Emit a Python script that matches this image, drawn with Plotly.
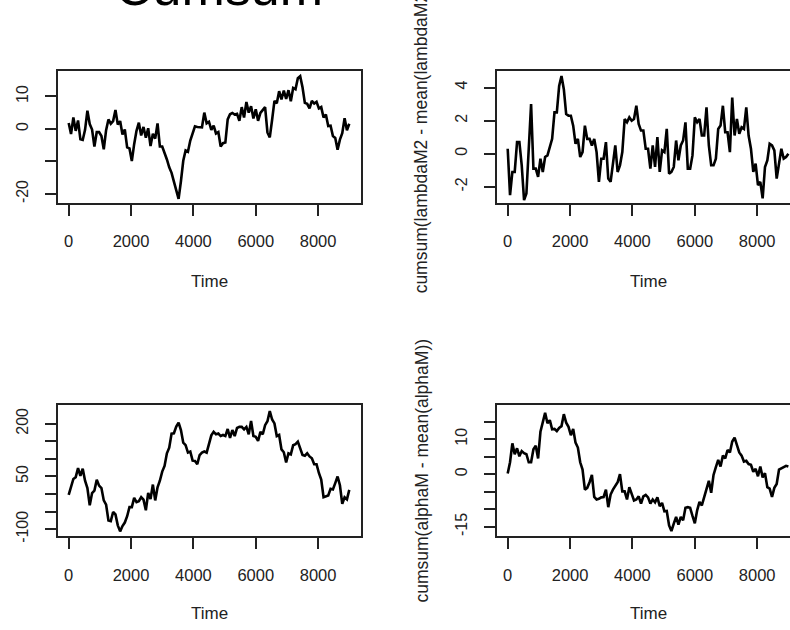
import plotly.graph_objects as go

# Time index (ts index of the series, sampled every 75 steps)
TIME = list(range(0, 9001, 75))

X_TICKS = [0, 2000, 4000, 6000, 8000]
X_TICK_TEXT = ["0", "2000", "4000", "6000", "8000"]

# cumsum series (including the visible jitter band)
CUM_TOP_LEFT = [
    1.8, -1.6, 3.5, -0.6, 2.6, -3.2, -3.4, -0.3, 5.6, 1.5,
    -0.2, -5.4, -1.0, -1.0, -2.2, -6.3, -0.4, 2.9, 1.6, 2.4,
    5.8, 1.3, 2.4, -1.7, -0.2, -5.7, -6.0, -9.9, -4.7, -0.6,
    1.9, -2.0, 0.6, -2.7, 0.2, -5.3, -1.5, -3.0, 1.7, -5.4,
    -5.4, -7.2, -9.4, -11.8, -13.5, -16.2, -19.1, -21.5, -16.1, -9.8,
    -6.6, -7.0, -3.6, -1.4, 0.8, 0.6, 0.5, 0.5, 5.0, 1.7,
    2.2, -0.3, 1.0, -1.4, -1.0, -5.4, -4.4, -4.2, 2.9, 4.5,
    4.9, 4.4, 4.6, 2.5, 6.7, 3.5, 8.3, 5.0, 7.0, 3.2,
    6.0, 2.5, 4.9, 5.8, 6.7, -1.1, -2.6, 2.8, 8.6, 7.9,
    11.6, 9.1, 11.8, 9.2, 11.9, 8.5, 12.6, 12.2, 15.6, 16.2,
    12.8, 8.0, 7.7, 6.3, 8.6, 7.8, 8.3, 6.3, 6.7, 3.5,
    4.4, 0.9, 1.0, -2.2, -2.8, -6.4, -3.3, -1.3, 3.3, -0.4,
    1.6,
]

CUM_LAMBDAM2 = [
    0.3, -2.5, -1.1, -1.1, 0.7, 0.7, -0.7, -2.8, -2.4, 0.5,
    3.0, -0.9, -0.9, -1.4, -0.3, -1.1, -0.2, -0.1, 0.4, 0.9,
    2.5, 2.5, 4.1, 4.7, 3.9, 2.4, 2.3, 2.3, 1.7, 0.6,
    0.9, -0.2, 0.1, 1.7, 0.9, 0.9, 0.5, 0.9, 0.1, -1.7,
    -0.3, -0.3, 0.7, -1.5, -1.7, -0.7, 0.5, -1.1, -0.7, 0.1,
    2.1, 1.9, 2.2, 2.0, 2.1, 2.9, 1.8, 1.4, 1.4, 0.3,
    0.3, -0.9, 0.5, -0.8, 1.0, -1.1, 0.2, 0.1, 1.5, -1.2,
    -1.1, -0.8, 0.8, -0.4, 0.5, 0.8, 1.9, -0.9, -0.9, -0.1,
    2.2, 1.9, 2.1, 1.1, 1.1, 2.8, 0.5, -0.7, -0.7, -0.3,
    1.5, 1.7, 2.9, 1.3, 1.3, 0.1, 3.4, 1.1, 2.1, 1.2,
    1.6, 1.5, 2.8, 1.1, 0.3, -1.1, -0.6, -1.9, -1.7, -2.7,
    -0.8, -0.4, 0.6, 0.5, 0.2, -1.5, -0.5, 0.3, -0.3, -0.2,
    0.0,
]

CUM_BOTTOM_LEFT = [
    -2, 24, 43, 48, 74, 52, 72, 38, 17, -32,
    3, 10, 41, 24, 17, -18, -30, -75, -77, -51,
    -58, -89, -106, -91, -81, -63, -37, -37, -11, -23,
    -20, -9, -16, -46, 3, -14, 27, -18, 19, 38,
    64, 80, 116, 132, 172, 173, 192, 203, 182, 146,
    139, 118, 121, 95, 94, 85, 111, 118, 121, 118,
    139, 167, 177, 170, 172, 165, 168, 165, 185, 160,
    182, 165, 188, 191, 191, 184, 191, 170, 208, 165,
    163, 151, 177, 170, 196, 207, 236, 212, 201, 165,
    168, 127, 119, 90, 116, 113, 139, 142, 149, 127,
    111, 109, 116, 107, 102, 85, 85, 60, 41, -9,
    -6, -4, 15, 13, 31, 50, 25, -28, -9, -15,
    12,
]

CUM_ALPHAM = [
    0.2, 3.4, 8.8, 5.7, 7.4, 5.1, 6.6, 6.0, 5.7, 3.4,
    3.4, 7.1, 8.1, 4.5, 12.1, 14.7, 17.5, 14.5, 15.4, 12.8,
    12.9, 12.3, 13.2, 13.7, 17.1, 14.7, 13.5, 11.1, 12.9, 9.0,
    7.6, 3.4, 1.3, -4.4, -3.9, -2.3, -0.2, -6.5, -7.2, -7.0,
    -6.6, -6.5, -4.4, -9.4, -5.8, -4.4, -3.5, -2.3, 0.0, -4.9,
    -4.9, -7.2, -3.7, -5.6, -7.5, -7.2, -6.3, -8.4, -6.3, -5.9,
    -6.6, -8.4, -7.2, -8.0, -6.6, -9.1, -8.2, -10.6, -10.5, -14.6,
    -16.2, -14.1, -12.2, -14.4, -12.2, -13.1, -9.6, -9.4, -9.6, -11.9,
    -14.0, -10.3, -7.9, -8.9, -6.8, -4.2, -1.9, -5.3, -0.2, 2.0,
    4.1, 2.2, 5.3, 4.5, 6.9, 6.2, 9.3, 10.4, 8.3, 6.2,
    5.3, 3.6, 3.8, 2.9, 2.7, 0.7, 1.5, -0.6, 2.2, -0.9,
    0.3, -3.7, -4.1, -6.5, -3.9, -2.8, 1.3, 1.7, 2.2, 2.4,
    2.2,
]

Y1_TICKS = [-20, -10, 0, 10]
Y1_TEXT = ["-20", "", "0", "10"]
Y2_TICKS = [-2, 0, 2, 4]
Y2_TEXT = ["-2", "0", "2", "4"]
Y3_TICKS = [-100, -50, 0, 50, 100, 150, 200]
Y3_TEXT = ["-100", "", "", "50", "", "", "200"]
Y4_TICKS = [-15, -10, -5, 0, 5, 10, 15]
Y4_TEXT = ["-15", "", "", "0", "", "10", ""]

TITLE = "Cumsum"
XLAB = "Time"
YLAB_TR = "cumsum(lambdaM2 - mean(lambdaM2))"
YLAB_BR = "cumsum(alphaM - mean(alphaM))"

FONT = "Liberation Sans, Arial, sans-serif"
INK = "#222222"
W, H = 790, 630

fig = go.Figure()
series = [CUM_TOP_LEFT, CUM_LAMBDAM2, CUM_BOTTOM_LEFT, CUM_ALPHAM]
for i, s in enumerate(series):
    suf = "" if i == 0 else str(i + 1)
    fig.add_trace(go.Scatter(x=TIME, y=s, mode="lines",
                             line=dict(color="black", width=2.6),
                             xaxis="x" + suf, yaxis="y" + suf,
                             showlegend=False, hoverinfo="skip"))

def px_x(p):
    return p / W

def px_y(p):
    return 1 - p / H

left_dom = [px_x(57.5), px_x(360.5)]
right_dom = [px_x(496.5), 1.0]
top_dom = [px_y(205), px_y(71.8)]
bot_dom = [px_y(542.3), px_y(409.3)]

def xax(dom, anchor, rng):
    return dict(domain=dom, anchor=anchor, range=rng, tickmode="array",
                tickvals=X_TICKS, ticktext=X_TICK_TEXT, ticks="outside",
                ticklen=11, tickwidth=1.5, tickcolor=INK, showline=True,
                linecolor=INK, linewidth=1.6, mirror=True, showgrid=False,
                zeroline=False, ticklabelstandoff=12,
                tickfont=dict(family=FONT, size=16.5, color=INK))

def yax(dom, anchor, rng, tv, tt, mirror):
    return dict(domain=dom, anchor=anchor, range=rng, tickmode="array",
                tickvals=tv, ticktext=tt, ticks="outside", ticklen=11,
                tickwidth=1.5, tickcolor=INK, showline=True, linecolor=INK,
                linewidth=1.6, mirror=mirror, showgrid=False, zeroline=False,
                tickangle=-90, ticklabelstandoff=10,
                tickfont=dict(family=FONT, size=16, color=INK))

XR_LEFT = [-359, 9360]
XR_RIGHT = [-359, 9052]

fig.update_layout(
    width=W, height=H, margin=dict(l=0, r=0, t=0, b=0),
    paper_bgcolor="white", plot_bgcolor="white",
    xaxis=xax(left_dom, "y", XR_LEFT),
    yaxis=yax(top_dom, "x", [-22.7, 17.8], Y1_TICKS, Y1_TEXT, True),
    xaxis2=xax(right_dom, "y2", XR_RIGHT),
    yaxis2=yax(top_dom, "x2", [-2.96, 5.0], Y2_TICKS, Y2_TEXT, False),
    xaxis3=xax(left_dom, "y3", XR_LEFT),
    yaxis3=yax(bot_dom, "x3", [-120, 254], Y3_TICKS, Y3_TEXT, True),
    xaxis4=xax(right_dom, "y4", XR_RIGHT),
    yaxis4=yax(bot_dom, "x4", [-17.7, 19.8], Y4_TICKS, Y4_TEXT, False),
)

ann = []
ann.append(dict(text=TITLE, x=px_x(219), y=px_y(18), xref="paper", yref="paper",
                xanchor="center", yanchor="bottom", showarrow=False,
                font=dict(family=FONT, size=52, color="black")))
for cx, cy in [(209, 285), (648, 285), (209, 620), (648, 620)]:
    ann.append(dict(text=XLAB, x=px_x(cx), y=px_y(cy), xref="paper", yref="paper",
                    xanchor="center", yanchor="middle", showarrow=False,
                    font=dict(family=FONT, size=17, color=INK)))
for lab, cx, cy in [(YLAB_TR, 420.5, 138.4), (YLAB_BR, 422, 475.8)]:
    ann.append(dict(text=lab, x=px_x(cx), y=px_y(cy), xref="paper", yref="paper",
                    xanchor="center", yanchor="middle", textangle=-90,
                    showarrow=False, font=dict(family=FONT, size=17.5, color=INK)))
fig.update_layout(annotations=ann)

fig.write_html("out.html")
